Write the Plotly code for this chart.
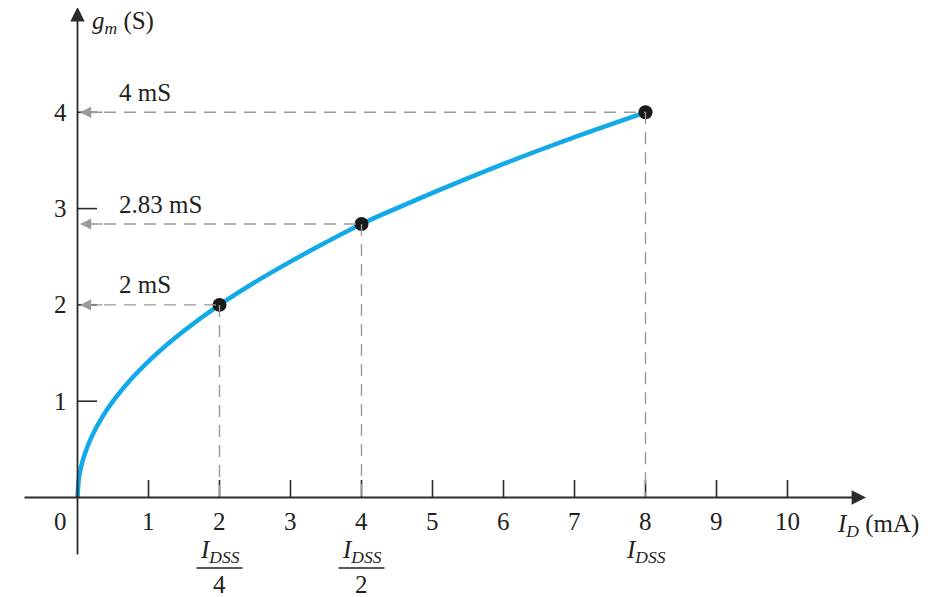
import plotly.graph_objects as go

# ---- data ----
id_curve = [0, 0.02, 0.05, 0.1, 0.2, 0.35, 0.5, 0.75, 1, 1.25, 1.5, 2, 2.5, 3, 3.5, 4, 4.5, 5, 5.5, 6, 6.5, 7, 7.5, 8]
gm_curve = [0, 0.2, 0.316, 0.447, 0.632, 0.837, 1.0, 1.225, 1.414, 1.581, 1.732, 2.0, 2.236, 2.449, 2.65, 2.84, 3.005, 3.164, 3.317, 3.464, 3.606, 3.742, 3.873, 4.0]
id_points = [2, 4, 8]
gm_points = [2, 2.84, 4]
point_labels = ["2 mS", "2.83 mS", "4 mS"]
idss_labels = ["<i>I</i><sub><i>DSS</i></sub>", "<i>I</i><sub><i>DSS</i></sub>", "<i>I</i><sub><i>DSS</i></sub>"]
idss_denoms = ["4", "2", None]
x_ticks = [1, 2, 3, 4, 5, 6, 7, 8, 9, 10]
y_ticks = [1, 2, 3, 4]

# page body has an 8px margin, so positions below are screen px minus 8
OFF = 8
W, H = 925, 589
X0, SX = 77.5 - OFF, 71.0
Y0, SY = 497.5 - OFF, 96.3

def X(px):
    return (px - OFF - X0) / SX

def Y(py):
    return (Y0 - (py - OFF)) / SY

FONT = "Liberation Serif, Times New Roman, serif"
TXT = "#231f20"
AX = "#2b2b2b"
GRAY = "#9a9a9a"
BLUE = "#12a9e8"
FS = 25

fig = go.Figure()
fig.add_trace(go.Scatter(x=id_curve, y=gm_curve, mode="lines",
                         line=dict(color=BLUE, width=4.5, shape="spline", smoothing=1.0),
                         hoverinfo="skip", showlegend=False))
fig.add_trace(go.Scatter(x=id_points, y=gm_points, mode="markers",
                         marker=dict(color="#1a1a1a", size=14),
                         showlegend=False))

shapes = []
ann = []

# axes
ann.append(dict(x=X(866), y=0, ax=X(23), ay=0, xref="x", yref="y", axref="x", ayref="y",
                text="", showarrow=True, arrowhead=2, arrowsize=1.6, arrowwidth=1.8,
                arrowcolor=AX, standoff=0))
ann.append(dict(x=0, y=Y(7), ax=0, ay=Y(556), xref="x", yref="y", axref="x", ayref="y",
                text="", showarrow=True, arrowhead=2, arrowsize=1.6, arrowwidth=1.8,
                arrowcolor=AX, standoff=0))

# ticks
for t in x_ticks:
    shapes.append(dict(type="line", x0=t, x1=t, y0=0, y1=Y(480), xref="x", yref="y",
                       line=dict(color=AX, width=1.6)))
    ann.append(dict(x=t, y=Y(521), text=str(t), showarrow=False, xref="x", yref="y",
                    font=dict(family=FONT, size=FS, color=TXT)))
for t in y_ticks:
    shapes.append(dict(type="line", x0=0, x1=X(97), y0=t, y1=t, xref="x", yref="y",
                       line=dict(color=AX, width=1.6)))
    ann.append(dict(x=X(60), y=t, text=str(t), showarrow=False, xref="x", yref="y",
                    font=dict(family=FONT, size=FS, color=TXT)))
ann.append(dict(x=X(60), y=Y(521), text="0", showarrow=False, xref="x", yref="y",
                font=dict(family=FONT, size=FS, color=TXT)))

# axis titles
ann.append(dict(x=X(90), y=Y(22), text="<i>g</i><sub><i>m</i></sub> (S)", showarrow=False,
                xref="x", yref="y", xanchor="left",
                font=dict(family=FONT, size=FS, color=TXT)))
ann.append(dict(x=X(835), y=Y(525), text="<i>I</i><sub><i>D</i></sub> (mA)", showarrow=False,
                xref="x", yref="y", xanchor="left",
                font=dict(family=FONT, size=FS, color=TXT)))

# guide lines, arrows, labels
for xi, yi, lab, num, den in zip(id_points, gm_points, point_labels, idss_labels, idss_denoms):
    shapes.append(dict(type="line", x0=X(104), x1=xi, y0=yi, y1=yi, xref="x", yref="y",
                       line=dict(color=GRAY, width=1.4, dash="12px,8px")))
    shapes.append(dict(type="line", x0=xi, x1=xi, y0=yi, y1=0, xref="x", yref="y",
                       line=dict(color=GRAY, width=1.4, dash="12px,8px")))
    ann.append(dict(x=X(80), y=yi, ax=X(104), ay=yi, xref="x", yref="y", axref="x", ayref="y",
                    text="", showarrow=True, arrowhead=2, arrowsize=1.6, arrowwidth=1.4,
                    arrowcolor=GRAY, standoff=0))
    ann.append(dict(x=X(117), y=yi, yshift=20, text=lab, showarrow=False, xref="x", yref="y",
                    xanchor="left", font=dict(family=FONT, size=FS, color=TXT)))
    ann.append(dict(x=xi, y=Y(551), text=num, showarrow=False, xref="x", yref="y",
                    font=dict(family=FONT, size=FS, color=TXT)))
    if den is not None:
        shapes.append(dict(type="line", x0=xi - 23 / SX, x1=xi + 23 / SX, y0=Y(568), y1=Y(568),
                           xref="x", yref="y", line=dict(color=TXT, width=1.5)))
        ann.append(dict(x=xi, y=Y(584), text=den, showarrow=False, xref="x", yref="y",
                        font=dict(family=FONT, size=FS, color=TXT)))

fig.update_layout(
    width=W, height=H, autosize=False,
    margin=dict(l=0, r=0, t=0, b=0),
    paper_bgcolor="white", plot_bgcolor="white",
    xaxis=dict(range=[X(OFF), X(W + OFF)], visible=False, fixedrange=True),
    yaxis=dict(range=[Y(H + OFF), Y(OFF)], visible=False, fixedrange=True),
    shapes=shapes, annotations=ann, showlegend=False,
)

fig.write_html("out.html")
